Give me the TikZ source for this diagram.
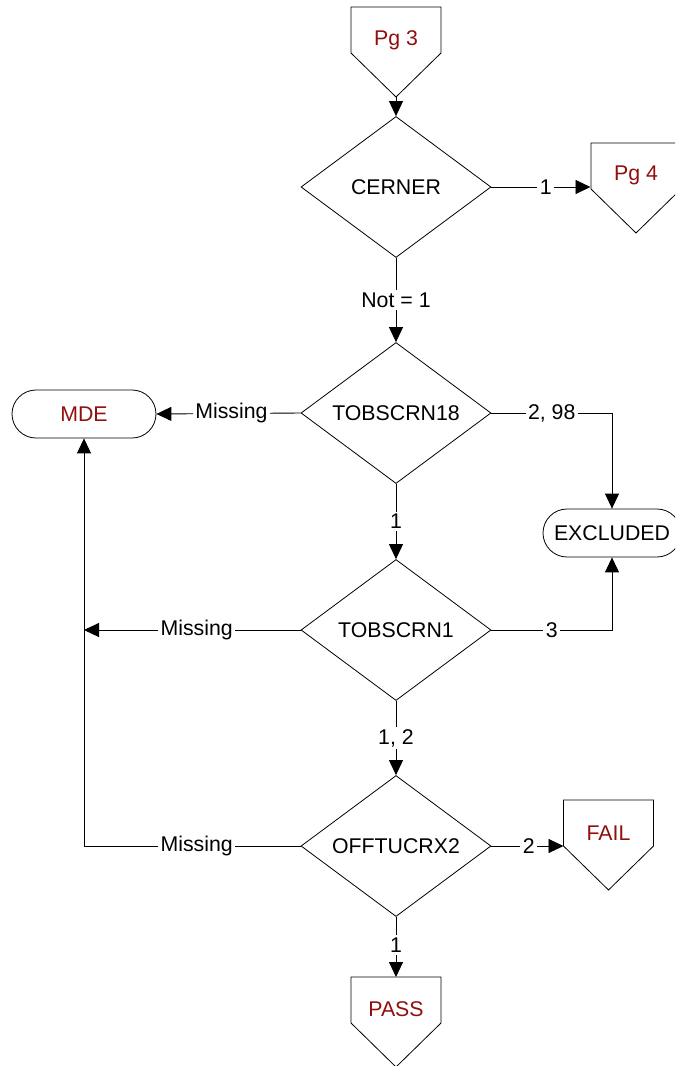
\documentclass[tikz,border=0pt]{standalone}
\usepackage{fontspec}
\setmainfont{Liberation Sans}
\usetikzlibrary{shapes.geometric,arrows.meta,calc}
\definecolor{mdered}{RGB}{145,15,15}
\newcommand\dfont{\fontsize{21.3}{25}\selectfont}
\newcommand\offpagebox[2]{\draw[shapeline] ({#1-45},{#2}) -- ({#1+45},{#2}) -- ({#1+45},{#2+46}) -- ({#1},{#2+90}) -- ({#1-45},{#2+46}) -- cycle;}
\tikzset{
  shapeline/.style={draw=black, line width=0.8pt},
  decision/.style={diamond, shapeline, aspect=1.35, minimum width=190pt, minimum height=141pt, inner sep=0pt, font=\dfont},
  terminal/.style={rectangle, rounded corners=24pt, shapeline, minimum height=48pt, inner sep=0pt, font=\dfont},
  pgtext/.style={font=\dfont, text=mdered, inner sep=0pt},
  conn/.style={draw=black, line width=0.9pt},
  arr/.style={conn, -{Triangle[length=15pt,width=14pt]}},
  lbl/.style={fill=white, inner sep=2.5pt, font=\dfont, text=black},
}
\begin{document}
\begin{tikzpicture}[x=1pt, y=-1pt]
\clip (0,0) rectangle (675,1066);
\fill[white] (0,0) rectangle (675,1066);

% off-page connectors
\offpagebox{396}{7}
\offpagebox{636}{143}
\offpagebox{608.5}{800}
\offpagebox{396}{977}
\node[pgtext] (pg3) at (396,40) {Pg 3};
\node[pgtext] (pg4) at (636,175) {Pg 4};
\node[pgtext] (fail) at (608.5,833) {FAIL};
\node[pgtext] (pass) at (396,1009) {PASS};
\coordinate (pg3tip) at (396,97);
\coordinate (pg4in) at (590.5,187);
\coordinate (failin) at (563.5,846);
\coordinate (passtop) at (396,977);

% decisions
\node[decision] (cerner) at (396,187) {CERNER};
\node[decision] (tob18) at (396,413) {TOBSCRN18};
\node[decision] (tob1) at (396,630) {TOBSCRN1};
\node[decision] (off) at (396,846) {OFFTUCRX2};

% terminals
\node[terminal, minimum width=144pt, text=mdered] (mde) at (84,414) {MDE};
\node[terminal, minimum width=138pt] (excl) at (612,533) {EXCLUDED};

% connectors
\draw[arr] (pg3tip) -- (cerner.north);
\draw[arr] (cerner.east) -- node[lbl, pos=0.55] {1} (pg4in);
\draw[arr] (cerner.south) -- node[lbl] {Not = 1} (tob18.north);
\draw[arr] (tob18.west) -- node[lbl, pos=0.48] {Missing} (mde.east);
\draw[arr] (tob18.east) -| node[lbl, pos=0.25] {2, 98} (excl.north);
\draw[arr] (tob18.south) -- node[lbl] {1} (tob1.north);
\draw[arr] (tob1.east) -| node[lbl, pos=0.25] {3} (excl.south);
\coordinate (j1) at (mde.south |- tob1.west);
\draw[arr] (tob1.west) -- node[lbl, pos=0.48] {Missing} (j1);
\draw[arr] (tob1.south) -- node[lbl] {1, 2} (off.north);
\draw[arr] (off.west) -| node[lbl, pos=0.24] {Missing} (mde.south);
\draw[arr] (off.east) -- node[lbl, pos=0.52] {2} (failin);
\draw[arr] (off.south) -- node[lbl, pos=0.47] {1} (passtop);
\end{tikzpicture}
\end{document}
